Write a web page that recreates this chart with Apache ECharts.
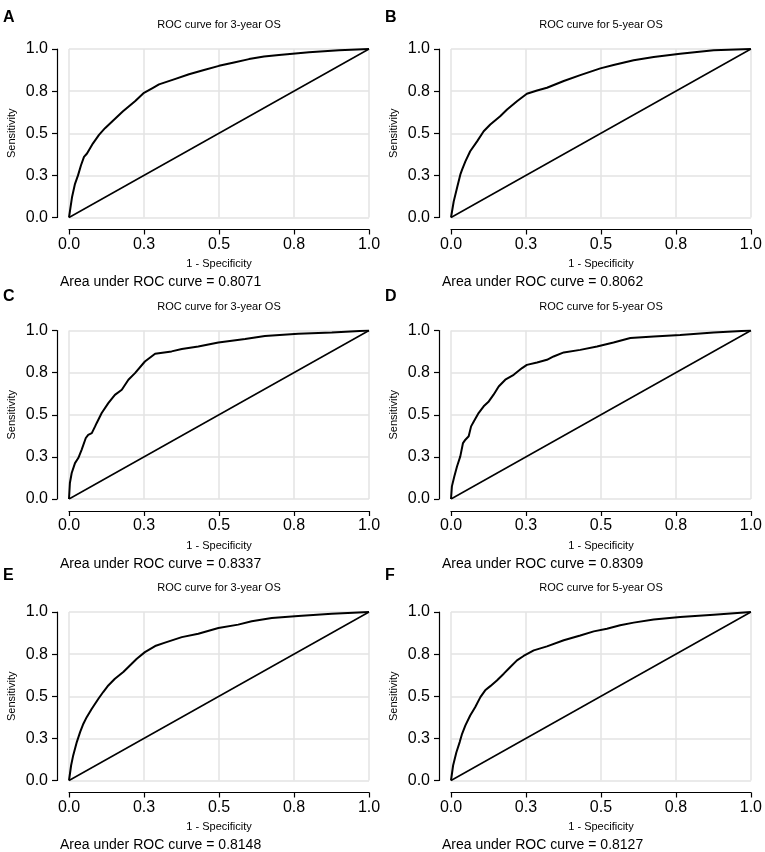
<!DOCTYPE html>
<html>
<head>
<meta charset="utf-8">
<title>ROC curves</title>
<script src="https://cdn.jsdelivr.net/npm/echarts@6/dist/echarts.min.js"></script>
<style>
html, body { margin: 0; padding: 0; background: #fff; }
#chart { width: 765px; height: 852px; }
</style>
</head>
<body>
<div id="chart"></div>
<script>
// tick labels as R prints them (0.25 -> 0.3, 0.75 -> 0.8)
var tickLabels = ['0.0', '0.3', '0.5', '0.8', '1.0'];

var letters = ['A', 'B', 'C', 'D', 'E', 'F'];
var titles = ['ROC curve for 3-year OS', 'ROC curve for 5-year OS',
	'ROC curve for 3-year OS', 'ROC curve for 5-year OS',
	'ROC curve for 3-year OS', 'ROC curve for 5-year OS'];
var aucValues = ['0.8071', '0.8062', '0.8337', '0.8309', '0.8148', '0.8127'];

// reference diagonal
var diagX = [0, 1];
var diagY = [0, 1];

// 1 - specificity / sensitivity
var fprA = [0, 0.005, 0.01, 0.02, 0.03, 0.04, 0.05, 0.06, 0.08, 0.10, 0.12, 0.15, 0.18, 0.20, 0.22, 0.25, 0.28, 0.30, 0.35, 0.40, 0.45, 0.50, 0.55, 0.60, 0.65, 0.70, 0.80, 0.90, 1.0];
var tprA = [0, 0.06, 0.12, 0.20, 0.25, 0.31, 0.36, 0.38, 0.44, 0.49, 0.53, 0.58, 0.63, 0.66, 0.69, 0.74, 0.77, 0.79, 0.82, 0.85, 0.875, 0.90, 0.92, 0.94, 0.955, 0.965, 0.98, 0.993, 1.0];

var fprB = [0, 0.009, 0.02, 0.031, 0.037, 0.048, 0.064, 0.087, 0.109, 0.131, 0.164, 0.187, 0.22, 0.253, 0.287, 0.32, 0.376, 0.431, 0.498, 0.542, 0.609, 0.676, 0.764, 0.876, 1.0];
var tprB = [0, 0.095, 0.175, 0.254, 0.284, 0.333, 0.393, 0.452, 0.512, 0.552, 0.601, 0.641, 0.69, 0.734, 0.754, 0.77, 0.81, 0.845, 0.885, 0.905, 0.933, 0.952, 0.972, 0.992, 1.0];

var fprC = [0, 0.003, 0.009, 0.02, 0.031, 0.042, 0.056, 0.064, 0.076, 0.087, 0.092, 0.109, 0.131, 0.153, 0.176, 0.198, 0.22, 0.253, 0.287, 0.342, 0.376, 0.431, 0.498, 0.587, 0.653, 0.764, 0.876, 1.0];
var tprC = [0, 0.095, 0.154, 0.213, 0.243, 0.292, 0.362, 0.381, 0.391, 0.431, 0.45, 0.51, 0.569, 0.618, 0.648, 0.708, 0.747, 0.816, 0.862, 0.876, 0.89, 0.905, 0.929, 0.949, 0.968, 0.98, 0.988, 1.0];

var fprD = [0, 0.003, 0.011, 0.02, 0.031, 0.04, 0.048, 0.059, 0.067, 0.076, 0.092, 0.109, 0.126, 0.142, 0.159, 0.181, 0.209, 0.237, 0.253, 0.287, 0.32, 0.342, 0.376, 0.431, 0.487, 0.542, 0.598, 0.676, 0.764, 0.876, 1.0];
var tprD = [0, 0.075, 0.134, 0.193, 0.253, 0.332, 0.352, 0.372, 0.431, 0.46, 0.51, 0.55, 0.579, 0.619, 0.668, 0.708, 0.737, 0.777, 0.796, 0.81, 0.826, 0.846, 0.87, 0.885, 0.905, 0.929, 0.955, 0.964, 0.974, 0.988, 1.0];

var fprE = [0, 0.007, 0.014, 0.026, 0.037, 0.048, 0.059, 0.076, 0.098, 0.114, 0.131, 0.153, 0.181, 0.209, 0.226, 0.253, 0.287, 0.32, 0.376, 0.431, 0.498, 0.564, 0.609, 0.676, 0.764, 0.876, 1.0];
var tprE = [0, 0.089, 0.149, 0.228, 0.287, 0.337, 0.376, 0.426, 0.485, 0.525, 0.564, 0.604, 0.644, 0.693, 0.723, 0.762, 0.798, 0.818, 0.851, 0.871, 0.905, 0.925, 0.945, 0.964, 0.976, 0.99, 1.0];

var fprF = [0, 0.007, 0.018, 0.029, 0.037, 0.048, 0.064, 0.081, 0.098, 0.114, 0.131, 0.153, 0.176, 0.192, 0.22, 0.242, 0.276, 0.32, 0.376, 0.431, 0.476, 0.52, 0.564, 0.609, 0.676, 0.764, 0.876, 1.0];
var tprF = [0, 0.089, 0.168, 0.228, 0.277, 0.327, 0.386, 0.436, 0.495, 0.535, 0.56, 0.594, 0.634, 0.663, 0.713, 0.739, 0.772, 0.796, 0.832, 0.861, 0.885, 0.901, 0.921, 0.937, 0.956, 0.97, 0.984, 1.0];

var fprList = [fprA, fprB, fprC, fprD, fprE, fprF];
var tprList = [tprA, tprB, tprC, tprD, tprE, tprF];

var FONT = "'Liberation Sans', Arial, Helvetica, sans-serif";
var colLeft = [69, 451];
var rowTop = [49, 330.5, 612];
var plotW = 300, plotH = 168.5;

function pairs(xs, ys) {
	var out = [];
	for (var i = 0; i < xs.length; i++) out.push([xs[i], ys[i]]);
	return out;
}

function tickFmt(v) {
	return tickLabels[Math.round(v / 0.25)];
}

// R style axis: detached from the plot box by 12px
function axisBase(i) {
	return {
		gridIndex: i, type: 'value', min: 0, max: 1, interval: 0.25, offset: 12,
		axisLine: { show: true, onZero: false, lineStyle: { color: '#000', width: 1.2 } },
		axisTick: { show: true, length: 5, lineStyle: { color: '#000', width: 1.2 } },
		axisLabel: { fontSize: 16, color: '#000', fontFamily: FONT, showMinLabel: true, showMaxLabel: true, formatter: tickFmt },
		splitLine: { show: true, lineStyle: { color: '#e3e3e3', width: 1.5 } },
		nameLocation: 'middle',
		nameTextStyle: { fontSize: 11, color: '#000', fontFamily: FONT }
	};
}

function buildOption() {
	var grids = [], xAxes = [], yAxes = [], series = [], texts = [];

	for (var i = 0; i < 6; i++) {
		var col = i % 2, row = Math.floor(i / 2);
		var gLeft = colLeft[col], gTop = rowTop[row];

		grids.push({ left: gLeft, top: gTop, width: plotW, height: plotH });

		var xa = axisBase(i);
		xa.name = '1 - Specificity';
		xa.nameGap = 29;
		xa.axisLabel.margin = 7;
		xAxes.push(xa);

		var ya = axisBase(i);
		ya.name = 'Sensitivity';
		ya.nameGap = 40;
		ya.axisLabel.margin = 9;
		yAxes.push(ya);

		series.push({
			type: 'line', xAxisIndex: i, yAxisIndex: i,
			data: pairs(diagX, diagY),
			showSymbol: false,
			lineStyle: { color: '#000', width: 1.5 }
		});
		series.push({
			type: 'line', xAxisIndex: i, yAxisIndex: i,
			data: pairs(fprList[i], tprList[i]),
			showSymbol: false,
			lineStyle: { color: '#000', width: 2 }
		});

		texts.push({
			type: 'text', x: col === 0 ? 3 : 385, y: 17.5 + row * 279,
			style: { text: letters[i], font: 'bold 16px ' + FONT, fill: '#000', align: 'left', verticalAlign: 'middle' }
		});
		texts.push({
			type: 'text', x: gLeft + plotW / 2, y: gTop - 24,
			style: { text: titles[i], font: '11px ' + FONT, fill: '#000', align: 'center', verticalAlign: 'middle' }
		});
		texts.push({
			type: 'text', x: gLeft - 9, y: gTop + plotH + 65,
			style: { text: 'Area under ROC curve = ' + aucValues[i], font: '14px ' + FONT, fill: '#000', align: 'left', verticalAlign: 'middle' }
		});
	}

	return {
		animation: false,
		grid: grids,
		xAxis: xAxes,
		yAxis: yAxes,
		series: series,
		graphic: texts
	};
}

var rocChart = echarts.init(document.getElementById('chart'));
rocChart.setOption(buildOption());
</script>
</body>
</html>
